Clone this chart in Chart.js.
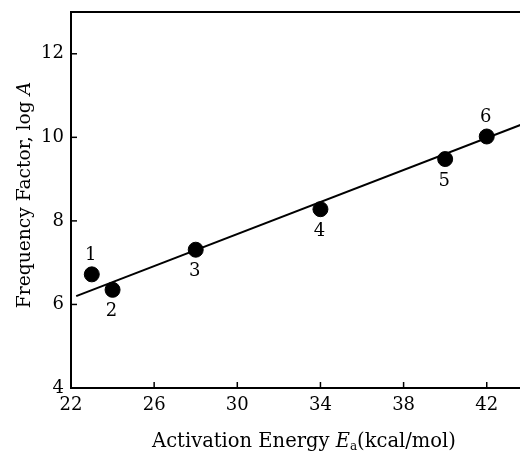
<!DOCTYPE html>
<html>
<head>
<meta charset="utf-8">
<script src="https://cdn.jsdelivr.net/npm/chart.js@4/dist/chart.umd.min.js"></script>
<style>
html,body{margin:0;padding:0;background:#fff;}
#wrap{width:520px;height:452px;position:relative;}
</style>
</head>
<body>
<div id="wrap"><canvas id="c" width="520" height="452"></canvas></div>
<script>
// Data
const pointLabels = ['1', '2', '3', '4', '5', '6'];
const activationEnergy = [23, 24, 28, 34, 40, 42];
const logA = [6.72, 6.35, 7.31, 8.28, 9.48, 10.02];
const fitX = [22.25, 44];
const fitY = [6.2, 10.37];
const xTicks = [22, 26, 30, 34, 38, 42];
const yTicks = [4, 6, 8, 10, 12];
const labelAbove = [true, false, false, false, false, true];

const FONT = "'DejaVu Serif', 'Liberation Serif', serif";

const decor = {
  id: 'decor',
  afterDraw(chart) {
    const ctx = chart.ctx;
    const ca = chart.chartArea;
    const xs = chart.scales.x, ys = chart.scales.y;
    ctx.save();
    ctx.strokeStyle = '#000';
    ctx.lineWidth = 2;
    // top frame line
    ctx.beginPath();
    ctx.moveTo(ca.left, ca.top);
    ctx.lineTo(ca.right, ca.top);
    ctx.stroke();
    // inward tick marks
    ctx.lineWidth = 1.5;
    xTicks.forEach(v => {
      const px = xs.getPixelForValue(v);
      ctx.beginPath();
      ctx.moveTo(px, ca.bottom);
      ctx.lineTo(px, ca.bottom - 6);
      ctx.stroke();
    });
    yTicks.forEach(v => {
      const py = ys.getPixelForValue(v);
      ctx.beginPath();
      ctx.moveTo(ca.left, py);
      ctx.lineTo(ca.left + 6, py);
      ctx.stroke();
    });
    // point number labels
    ctx.fillStyle = '#000';
    ctx.font = '18px ' + FONT;
    ctx.textAlign = 'center';
    ctx.textBaseline = 'middle';
    pointLabels.forEach((t, i) => {
      const px = xs.getPixelForValue(activationEnergy[i]);
      const py = ys.getPixelForValue(logA[i]);
      ctx.fillText(t, px - 1, py + (labelAbove[i] ? -19 : 22));
    });
    // x axis title with italic E and subscript a
    const parts = [
      {t: 'Activation Energy ', f: '19.5px ' + FONT, dy: 0},
      {t: 'E', f: 'italic 19.5px ' + FONT, dy: 0},
      {t: 'a', f: '12px ' + FONT, dy: 3},
      {t: '(kcal/mol)', f: '19.5px ' + FONT, dy: 0}
    ];
    let total = 0;
    parts.forEach(p => { ctx.font = p.f; p.w = ctx.measureText(p.t).width; total += p.w; });
    let x = 304 - total / 2;
    ctx.textAlign = 'left';
    ctx.textBaseline = 'alphabetic';
    parts.forEach(p => { ctx.font = p.f; ctx.fillText(p.t, x, 447 + p.dy); x += p.w; });
    // y axis title rotated
    const yparts = [
      {t: 'Frequency Factor, log ', f: '18.7px ' + FONT},
      {t: 'A', f: 'italic 18.7px ' + FONT}
    ];
    let ytot = 0;
    yparts.forEach(p => { ctx.font = p.f; p.w = ctx.measureText(p.t).width; ytot += p.w; });
    ctx.translate(30, 195);
    ctx.rotate(-Math.PI / 2);
    let yx = -ytot / 2;
    yparts.forEach(p => { ctx.font = p.f; ctx.fillText(p.t, yx, 0); yx += p.w; });
    ctx.restore();
  }
};

new Chart(document.getElementById('c'), {
  type: 'scatter',
  data: {
    datasets: [
      {
        data: fitX.map((v, i) => ({x: v, y: fitY[i]})),
        showLine: true,
        borderColor: '#000',
        borderWidth: 2,
        pointRadius: 0,
        fill: false
      },
      {
        data: activationEnergy.map((v, i) => ({x: v, y: logA[i]})),
        backgroundColor: '#000',
        borderColor: '#000',
        pointRadius: 7.5,
        pointHoverRadius: 7.5
      }
    ]
  },
  options: {
    responsive: false,
    animation: false,
    events: [],
    layout: {autoPadding: false, padding: {top: 12, right: 0, left: 0, bottom: 0}},
    plugins: {legend: {display: false}, tooltip: {enabled: false}},
    scales: {
      x: {
        type: 'linear',
        min: 22,
        max: 43.6,
        afterBuildTicks: s => { s.ticks = xTicks.map(v => ({value: v})); },
        afterFit: s => { s.height = 64; s.paddingLeft = 0; s.paddingRight = 0; },
        grid: {display: false, drawTicks: false},
        border: {display: true, color: '#000', width: 2},
        ticks: {color: '#000', font: {family: FONT, size: 18}, padding: 7, maxRotation: 0}
      },
      y: {
        type: 'linear',
        min: 4,
        max: 13,
        afterBuildTicks: s => { s.ticks = yTicks.map(v => ({value: v})); },
        afterFit: s => { s.width = 71; s.paddingTop = 0; s.paddingBottom = 0; },
        grid: {display: false, drawTicks: false},
        border: {display: true, color: '#000', width: 2},
        ticks: {color: '#000', font: {family: FONT, size: 18}, padding: 7}
      }
    }
  },
  plugins: [decor]
});
</script>
</body>
</html>
